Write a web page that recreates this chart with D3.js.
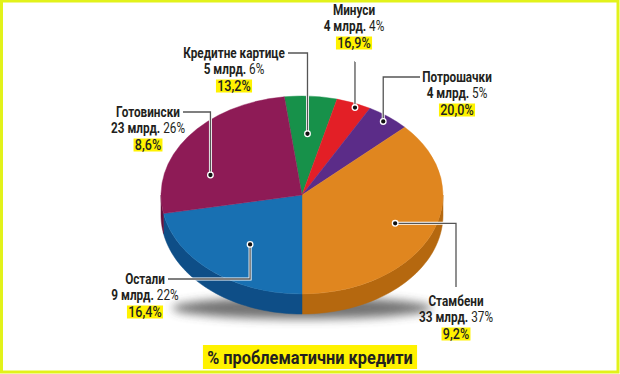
<!DOCTYPE html>
<meta charset="utf-8">
<style>
    body {
        margin: 0;
        width: 620px;
        height: 374px;
        background: #fff;
        font-family: Roboto, "Open Sans", sans-serif;
    }

    svg {
        display: block;
    }

    .lbl text {
        font-size: 14px;
        fill: #231f20;
    }
</style>

<body>
    <script src="https://d3js.org/d3.v7.min.js"></script>
    <script>

        // data, clockwise from the top
        var categories = ["Кредитне картице", "Минуси", "Потрошачки", "Стамбени", "Остали", "Готовински"];
        var amounts = [5, 4, 4, 33, 9, 23];          // млрд.
        var shares = [6, 4, 5, 37, 22, 26];          // % of total
        var problemRates = [13.2, 16.9, 20.0, 9.2, 16.4, 8.6];  // % problematic
        var title = "% проблематични кредити";

        var colors = ["#17914a", "#e31f26", "#5b2c88", "#e0861f", "#1870b2", "#8e1b56"];
        var sideColors = ["#0f6b35", "#a8161c", "#3f1e60", "#b5680f", "#0e4e87", "#65123d"];

        // label layout: text centre, leader start, dot placement in slice
        var layout = [
            { x: 234, y: 53, sx: 288, sy: 53, elbow: "h", r: 0.62, t: 0.5 },
            { x: 354, y: 10, sx: 355, sy: 62, elbow: "h", r: 0.96, t: 0.6 },
            { x: 457, y: 77, sx: 420, sy: 77, elbow: "h", r: 0.94, t: 0.5 },
            { x: 456, y: 301, sx: 456, sy: 287, elbow: "v", r: 0.72, t: 0.5 },
            { x: 145, y: 279, sx: 168, sy: 279, elbow: "h", r: 0.62, t: 0.46 },
            { x: 148, y: 112, sx: 183, sy: 112, elbow: "h", r: 0.68, t: 0.3 }
        ];
        var squeeze = 0.84;

        var width = 620, height = 374;
        var cx = 302, cy = 195, rx = 141, ry = 99, depth = 20;
        var k = ry / rx;

        var data = categories.map(function (c, i) {
            return { label: c, amount: amounts[i], share: shares[i], rate: problemRates[i], i: i };
        });

        var start = Math.PI - d3.sum(shares.slice(0, 4)) / 100 * 2 * Math.PI;
        var pie = d3.pie()
            .sort(null)
            .value(function (d) { return d.share; })
            .startAngle(start)
            .endAngle(start + 2 * Math.PI);
        var arcs = pie(data);

        var svg = d3.select("body").append("svg")
            .attr("width", width)
            .attr("height", height);

        // frame
        svg.append("rect")
            .attr("x", 1.5).attr("y", 1).attr("width", 616.5).attr("height", 371)
            .attr("fill", "none")
            .attr("stroke", "#e2f21a")
            .attr("stroke-width", 3);

        var defs = svg.append("defs");
        defs.append("filter").attr("id", "blur")
            .attr("x", "-20%").attr("y", "-100%").attr("width", "140%").attr("height", "300%")
            .append("feGaussianBlur").attr("stdDeviation", 5);

        // shadow
        svg.append("ellipse")
            .attr("cx", cx).attr("cy", cy + ry + depth - 6)
            .attr("rx", rx * 0.92).attr("ry", 11)
            .attr("fill", "#444")
            .attr("opacity", 0.75)
            .attr("filter", "url(#blur)");

        function pt(a, dy) {
            return [cx + rx * Math.sin(a), cy - ry * Math.cos(a) + (dy || 0)];
        }

        // side walls (front half only)
        var sides = svg.append("g").attr("class", "sides");
        arcs.forEach(function (d) {
            var a0 = Math.max(d.startAngle, Math.PI / 2);
            var a1 = Math.min(d.endAngle, 3 * Math.PI / 2);
            if (a1 <= a0) return;
            var n = 40, top = [], bot = [];
            for (var j = 0; j <= n; j++) {
                var a = a0 + (a1 - a0) * j / n;
                top.push(pt(a));
                bot.push(pt(a, depth));
            }
            var pts = top.concat(bot.reverse());
            sides.append("path")
                .attr("d", d3.line()(pts) + "Z")
                .attr("fill", sideColors[d.data.i])
                .attr("stroke", sideColors[d.data.i])
                .attr("stroke-width", 0.5);
        });

        // top face
        var arc = d3.arc().innerRadius(0).outerRadius(rx);
        svg.append("g")
            .attr("transform", "translate(" + cx + "," + cy + ") scale(1," + k + ")")
            .selectAll("path")
            .data(arcs)
            .join("path")
            .attr("d", arc)
            .attr("fill", function (d) { return colors[d.data.i]; })
            .attr("stroke", function (d) { return colors[d.data.i]; })
            .attr("stroke-width", 0.5);

        // leader lines
        var leaders = svg.append("g").attr("class", "leaders");
        arcs.forEach(function (d) {
            var L = layout[d.data.i];
            var a = d.startAngle + (d.endAngle - d.startAngle) * L.t;
            var dot = [cx + rx * L.r * Math.sin(a), cy - ry * L.r * Math.cos(a)];
            var elbow = L.elbow === "h" ? [dot[0], L.sy] : [L.sx, dot[1]];
            var pts = [[L.sx, L.sy], elbow, dot];
            leaders.append("path").attr("d", d3.line()(pts))
                .attr("fill", "none").attr("stroke", "#fff").attr("stroke-width", 3);
            leaders.append("path").attr("d", d3.line()(pts))
                .attr("fill", "none").attr("stroke", "#555").attr("stroke-width", 1.3);
            leaders.append("circle")
                .attr("cx", dot[0]).attr("cy", dot[1]).attr("r", 2.8)
                .attr("fill", "#111").attr("stroke", "#fff").attr("stroke-width", 1.3);
        });

        // labels
        var fmt = function (v) { return v.toFixed(1).replace(".", ","); };
        var lbl = svg.append("g").attr("class", "lbl");
        data.forEach(function (d) {
            var L = layout[d.i];
            var g = lbl.append("g")
                .attr("transform", "translate(" + L.x + "," + L.y + ") scale(" + squeeze + ",1)");
            g.append("text").attr("text-anchor", "middle").attr("dy", "0.35em")
                .style("font-weight", "bold").text(d.label);
            var t2 = g.append("text").attr("text-anchor", "middle").attr("y", 16).attr("dy", "0.35em");
            t2.append("tspan").style("font-weight", "bold").text(d.amount + " млрд.");
            t2.append("tspan").text(" " + d.share + "%");
            var box = g.append("rect").attr("fill", "#fff200");
            var t3 = g.append("text").attr("text-anchor", "middle").attr("y", 33).attr("dy", "0.35em")
                .style("font-size", "15px").style("font-weight", 500).text(fmt(d.rate) + "%");
            var bb = t3.node().getBBox();
            box.attr("x", bb.x - 1.5).attr("y", 33 - 6.5).attr("width", bb.width + 3).attr("height", 13);
        });

        // title
        var tg = svg.append("g").attr("transform", "translate(310,357) scale(0.86,1)");
        var tbox = tg.append("rect").attr("fill", "#fff200");
        var tt = tg.append("text").attr("text-anchor", "middle").attr("dy", "0.35em")
            .style("font-size", "19px").style("font-weight", "bold").attr("fill", "#231f20")
            .text(title);
        var tb = tt.node().getBBox();
        tbox.attr("x", tb.x - 5).attr("y", -12).attr("width", tb.width + 10).attr("height", 24);

    </script>
</body>
